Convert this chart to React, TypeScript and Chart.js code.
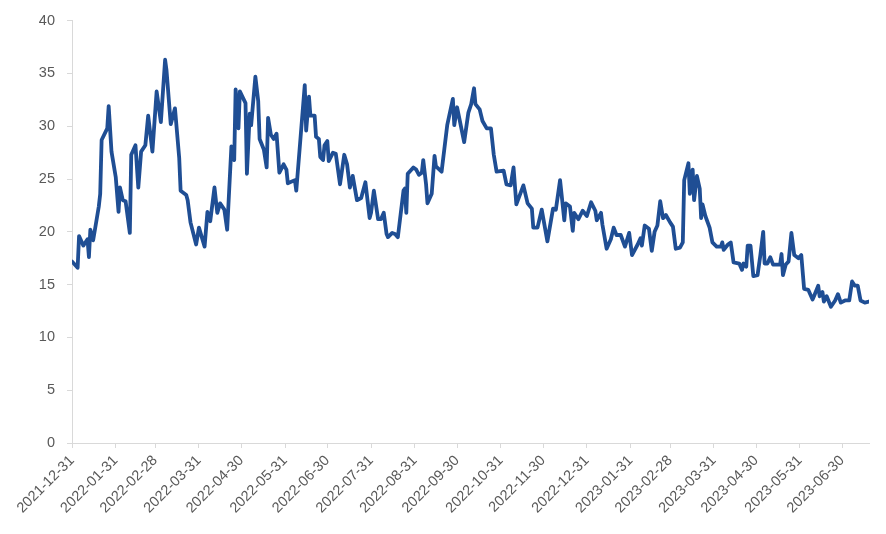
import { useEffect, useRef } from 'react'
import { Chart, registerables } from 'chart.js'

Chart.register(...registerables)

// x values are calendar days counted from the first date
const startDate = '2021-12-31'
const lastDay = 565

const days = [
  0, 4, 5, 8, 11, 12, 13, 15, 19, 20, 21, 25, 26, 28, 31, 33, 34, 36, 38, 41,
  42, 45, 47, 49, 52, 54, 57, 60, 63, 66, 67, 70, 73, 76, 77, 81, 82, 84, 88, 90,
  94, 96, 98, 101, 103, 105, 108, 110, 113, 115, 116, 118, 119, 123, 124, 126, 127, 130, 132, 133,
  136, 138, 139, 141, 143, 145, 147, 150, 152, 153, 158, 159, 165, 166, 168, 169, 172, 173, 175, 176,
  178, 179, 181, 182, 185, 187, 190, 193, 195, 197, 199, 202, 205, 208, 211, 212, 214, 217, 219, 221,
  223, 224, 227, 229, 231, 235, 236, 237, 238, 242, 244, 246, 248, 249, 251, 252, 255, 257, 258, 262,
  264, 266, 270, 271, 273, 278, 281, 283, 285, 286, 289, 291, 294, 297, 299, 301, 306, 308, 311, 313,
  315, 320, 323, 326, 327, 330, 333, 337, 341, 343, 346, 349, 350, 353, 355, 356, 359, 362, 365, 368,
  371, 372, 375, 376, 379, 382, 384, 386, 389, 392, 395, 397, 401, 403, 404, 406, 409, 411, 413, 415,
  417, 419, 421, 424, 426, 428, 431, 433, 434, 437, 438, 440, 441, 443, 445, 446, 447, 449, 452, 454,
  457, 460, 461, 462, 465, 467, 469, 473, 475, 476, 478, 479, 481, 483, 486, 488, 490, 491, 493, 495,
  497, 502, 503, 504, 506, 508, 510, 512, 515, 517, 519, 522, 525, 526, 529, 530, 532, 533, 535, 538,
  541, 543, 545, 548, 551, 553, 555, 557, 559, 562, 565,
]

const values = [
  17.2, 16.6, 19.6, 18.7, 19.3, 17.6, 20.2, 19.2, 22.4, 23.6, 28.7, 29.8, 31.9, 27.6, 25.2, 21.9, 24.2, 23.0, 22.9, 19.9,
  27.3, 28.2, 24.2, 27.6, 28.2, 31.0, 27.6, 33.3, 30.4, 36.3, 35.3, 30.2, 31.7, 27.0, 23.9, 23.5, 23.0, 20.9, 18.8, 20.4,
  18.6, 21.9, 21.0, 24.2, 21.8, 22.7, 22.1, 20.2, 28.1, 26.8, 33.5, 29.8, 33.3, 32.2, 25.5, 31.2, 30.1, 34.7, 32.4, 28.8,
  27.8, 26.1, 30.8, 29.2, 28.8, 29.3, 25.6, 26.4, 25.9, 24.6, 24.9, 23.9, 33.9, 29.6, 32.8, 31.0, 31.0, 29.0, 28.8, 27.1,
  26.8, 28.2, 28.6, 26.7, 27.5, 27.4, 24.5, 27.3, 26.4, 24.2, 25.3, 23.0, 23.2, 24.7, 21.3, 21.8, 23.9, 21.2, 21.2, 21.8,
  19.8, 19.5, 19.9, 19.8, 19.5, 23.9, 24.1, 21.8, 25.5, 26.1, 25.9, 25.4, 25.6, 26.8, 24.5, 22.7, 23.6, 27.2, 26.2, 25.7,
  27.9, 30.1, 32.6, 30.1, 31.8, 28.5, 31.3, 32.1, 33.6, 32.1, 31.6, 30.5, 29.8, 29.8, 27.3, 25.7, 25.8, 24.5, 24.4, 26.1,
  22.6, 24.4, 22.7, 22.2, 20.4, 20.4, 22.1, 19.1, 22.2, 22.1, 24.9, 21.1, 22.7, 22.4, 20.1, 21.8, 21.2, 22.0, 21.5, 22.8,
  22.0, 21.1, 21.8, 20.7, 18.4, 19.3, 20.4, 19.7, 19.7, 18.6, 19.9, 17.8, 18.8, 19.4, 18.7, 20.6, 20.3, 18.2, 20.0, 20.6,
  22.9, 21.3, 21.6, 20.9, 20.5, 18.4, 18.5, 19.0, 24.9, 26.5, 23.6, 25.9, 23.0, 25.3, 24.1, 21.3, 22.6, 21.5, 20.4, 19.0,
  18.6, 18.6, 19.0, 18.3, 18.8, 19.0, 17.1, 17.0, 16.4, 17.0, 16.7, 18.7, 18.7, 15.8, 15.9, 17.8, 20.0, 17.0, 17.0, 17.6,
  16.9, 16.9, 17.9, 15.9, 16.9, 17.2, 19.9, 17.8, 17.5, 17.8, 14.6, 14.5, 13.6, 13.9, 14.9, 13.9, 14.3, 13.4, 13.9, 12.9,
  13.5, 14.1, 13.3, 13.5, 13.5, 15.3, 14.9, 14.9, 13.5, 13.3, 13.4,
]

const tickDates = [
  '2021-12-31', '2022-01-31', '2022-02-28', '2022-03-31', '2022-04-30', '2022-05-31',
  '2022-06-30', '2022-07-31', '2022-08-31', '2022-09-30', '2022-10-31', '2022-11-30',
  '2022-12-31', '2023-01-31', '2023-02-28', '2023-03-31', '2023-04-30', '2023-05-31',
  '2023-06-30',
]

const dayOf = (s: string) => Math.round((Date.parse(s) - Date.parse(startDate)) / 86400000)

const labelFont = { family: '"Liberation Sans", Arial, sans-serif', size: 14.5 }
const axisColor = '#d9d9d9'
const textColor = '#595959'

export default function App() {
  const canvasRef = useRef<HTMLCanvasElement>(null)

  useEffect(() => {
    const ctx = canvasRef.current!.getContext('2d')!
    const chart = new Chart(ctx, {
      type: 'line',
      data: {
        datasets: [{
          data: days.map((d, i) => ({ x: d, y: values[i] })),
          borderColor: '#1f4e94',
          borderWidth: 3.8,
          borderJoinStyle: 'round',
          borderCapStyle: 'round',
          pointRadius: 0,
          tension: 0,
          fill: false,
        }],
      },
      options: {
        animation: false,
        responsive: true,
        maintainAspectRatio: false,
        layout: { padding: { top: 9, right: 17, left: 0, bottom: 0 } },
        plugins: { legend: { display: false }, tooltip: { enabled: false } },
        scales: {
          x: {
            type: 'linear',
            min: 0,
            max: lastDay,
            afterBuildTicks: (s: any) => { s.ticks = tickDates.map((t) => ({ value: dayOf(t) })) },
            afterFit: (s: any) => { s.height = 91 },
            grid: { drawOnChartArea: false, tickLength: 5, color: axisColor },
            border: { color: axisColor, width: 1 },
            ticks: {
              autoSkip: false,
              minRotation: 45,
              maxRotation: 45,
              padding: 4,
              color: textColor,
              font: labelFont,
              callback: (_v: any, i: number) => tickDates[i],
            },
          },
          y: {
            min: 0,
            max: 40,
            afterFit: (s: any) => { s.width = 72 },
            grid: { drawOnChartArea: false, tickLength: 5, color: axisColor },
            border: { color: axisColor, width: 1 },
            ticks: { stepSize: 5, padding: 12, color: textColor, font: labelFont },
          },
        },
      },
    })
    return () => chart.destroy()
  }, [])

  return (
    <div style={{ position: 'fixed', left: 0, top: 0, width: 886, height: 534, background: '#fff' }}>
      <canvas ref={canvasRef}></canvas>
    </div>
  )
}
